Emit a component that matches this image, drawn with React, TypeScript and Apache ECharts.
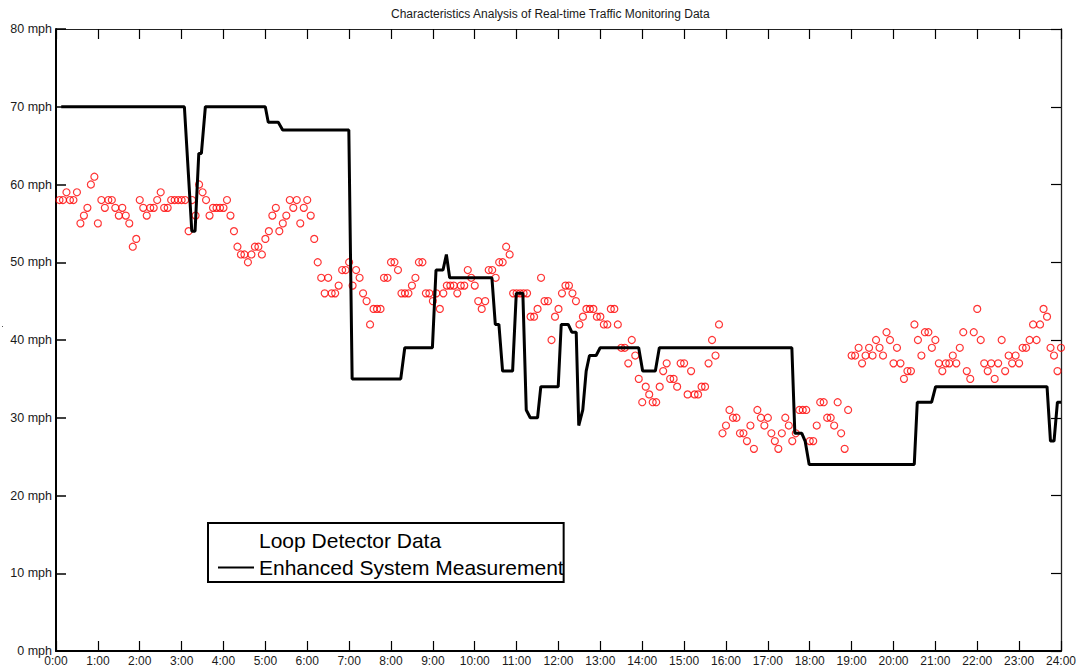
import React, { useEffect, useRef } from "react";
import * as echarts from "echarts";

const titleText = "Characteristics Analysis of Real-time Traffic Monitoring Data";
const loopName = "Loop Detector Data";
const enhancedName = "Enhanced System Measurement";

// Loop detector speeds (mph), one reading every 5 minutes, 0:05 .. 24:00
const loopSpeeds = [
  58, 58, 59, 58, 58, 59, 55, 56, 57, 60,
  61, 55, 58, 57, 58, 58, 57, 56, 57, 56,
  55, 52, 53, 58, 57, 56, 57, 57, 58, 59,
  57, 57, 58, 58, 58, 58, 58, 54, 58, 56,
  60, 59, 58, 56, 57, 57, 57, 57, 58, 56,
  54, 52, 51, 51, 50, 51, 52, 52, 51, 53,
  54, 56, 57, 54, 55, 56, 58, 57, 58, 55,
  57, 58, 56, 53, 50, 48, 46, 48, 46, 46,
  47, 49, 49, 50, 47, 49, 48, 46, 45, 42,
  44, 44, 44, 48, 48, 50, 50, 49, 46, 46,
  46, 47, 48, 50, 50, 46, 46, 45, 46, 44,
  46, 47, 47, 47, 46, 47, 47, 49, 48, 47,
  45, 44, 45, 49, 49, 48, 50, 50, 52, 51,
  46, 46, 46, 46, 46, 43, 43, 44, 48, 45,
  45, 40, 43, 44, 46, 47, 47, 46, 45, 42,
  43, 44, 44, 44, 43, 43, 42, 42, 44, 44,
  42, 39, 39, 37, 40, 38, 35, 32, 34, 33,
  32, 32, 34, 36, 37, 35, 35, 34, 37, 37,
  33, 36, 33, 33, 34, 34, 37, 40, 38, 42,
  28, 29, 31, 30, 30, 28, 28, 27, 29, 26,
  31, 30, 29, 30, 28, 27, 26, 28, 30, 29,
  27, 28, 31, 31, 31, 27, 27, 29, 32, 32,
  30, 30, 29, 32, 28, 26, 31, 38, 38, 39,
  37, 38, 39, 38, 40, 39, 38, 41, 40, 37,
  39, 37, 35, 36, 36, 42, 40, 38, 41, 41,
  39, 40, 37, 36, 37, 37, 38, 37, 39, 41,
  36, 35, 41, 44, 40, 37, 36, 37, 35, 37,
  40, 36, 38, 37, 38, 37, 39, 39, 40, 42,
  40, 42, 44, 43, 39, 38, 36, 39,
];
const sampleMinutes = 5;

// Enhanced system measurement: breakpoints (hour of day, mph)
const enhancedHours = [
  0.125, 3.066, 3.243, 3.321, 3.41, 3.472, 3.567, 4.998, 5.069, 5.308,
  5.413, 6.993, 7.072, 8.233, 8.329, 8.989, 9.075, 9.242, 9.323, 9.401,
  10.41, 10.491, 10.577, 10.665, 10.904, 10.992, 11.149, 11.23, 11.326, 11.5,
  11.578, 11.993, 12.065, 12.232, 12.318, 12.423, 12.484, 12.58, 12.661, 12.74,
  12.899, 12.995, 13.915, 14.01, 14.313, 14.408, 17.573, 17.644, 17.811, 17.89,
  17.986, 20.496, 20.568, 20.911, 21.006, 23.667, 23.749, 23.834, 23.915, 24.0,
];
const enhancedSpeeds = [
  70, 70, 54, 54, 64, 64, 70, 70, 68, 68,
  67, 67, 35, 35, 39, 39, 49, 49, 51, 48,
  48, 42, 42, 36, 36, 46, 46, 31, 30, 30,
  34, 34, 42, 42, 41, 41, 29, 31, 36, 38,
  38, 39, 39, 36, 36, 39, 39, 28, 28, 27,
  24, 24, 32, 32, 34, 34, 27, 27, 32, 32,
];

const hourTicks = { min: 0, max: 24, interval: 1 };
const speedTicks = { min: 0, max: 80, interval: 10 };

const FONT = "'Liberation Sans', Arial, Helvetica, sans-serif";
// plain line legend sample (36 x 14 box, 2px bar in the middle)
const LINE_ICON = "path://M0,0L0,0M0,6L36,6L36,8L0,8ZM36,14L36,14";

export default function App() {
  const ref = useRef<HTMLDivElement>(null);

  useEffect(() => {
    if (!ref.current) return;
    const chart = echarts.init(ref.current, undefined, { renderer: "svg" });

    const loopData = loopSpeeds.map((v, i) => [((i + 1) * sampleMinutes) / 60, v]);
    const enhancedData = enhancedHours.map((h, i) => [h, enhancedSpeeds[i]]);

    const xCommon = {
      type: "value" as const,
      min: hourTicks.min,
      max: hourTicks.max,
      interval: hourTicks.interval,
      splitLine: { show: false },
    };
    const yCommon = {
      type: "value" as const,
      min: speedTicks.min,
      max: speedTicks.max,
      interval: speedTicks.interval,
      splitLine: { show: false },
    };

    chart.setOption({
      animation: false,
      backgroundColor: "#ffffff",
      textStyle: { fontFamily: FONT },
      title: {
        text: titleText,
        left: 391,
        top: 8,
        padding: 0,
        textStyle: { fontSize: 12, fontWeight: "normal", color: "#1a1a1a", fontFamily: FONT },
      },
      grid: { left: 56, right: 16, top: 29, bottom: 16, containLabel: false },
      legend: {
        orient: "vertical",
        left: 208,
        top: 523,
        padding: [7, 0, 4, 10],
        itemGap: 6,
        itemWidth: 36,
        itemHeight: 14,
        borderColor: "#000",
        borderWidth: 2,
        borderRadius: 0,
        backgroundColor: "#ffffff",
        selectedMode: false,
        textStyle: { fontSize: 21, color: "#000", fontFamily: FONT },
        data: [
          { name: loopName, icon: "circle", itemStyle: { opacity: 0 } },
          { name: enhancedName, icon: LINE_ICON, itemStyle: { color: "#000" } },
        ],
      },
      xAxis: [
        {
          ...xCommon,
          position: "bottom",
          axisLine: { show: true, onZero: false, lineStyle: { color: "#000", width: 2 } },
          axisTick: { show: true, inside: true, length: 10, lineStyle: { color: "#000", width: 1.2 } },
          axisLabel: {
            show: true,
            margin: 4,
            fontSize: 12,
            color: "#1a1a1a",
            fontFamily: FONT,
            formatter: (v: number) => `${v}:00`,
          },
        },
        {
          ...xCommon,
          position: "top",
          axisLine: { show: true, onZero: false, lineStyle: { color: "#222", width: 1 } },
          axisTick: { show: true, inside: true, length: 10, lineStyle: { color: "#000", width: 1.2 } },
          axisLabel: { show: false },
        },
      ],
      yAxis: [
        {
          ...yCommon,
          position: "left",
          axisLine: { show: true, onZero: false, lineStyle: { color: "#000", width: 2 } },
          axisTick: { show: true, inside: true, length: 10, lineStyle: { color: "#000", width: 1.5 } },
          axisLabel: {
            show: true,
            margin: 4,
            fontSize: 12.5,
            color: "#1a1a1a",
            fontFamily: FONT,
            formatter: (v: number) => `${v} mph`,
          },
        },
        {
          ...yCommon,
          position: "right",
          axisLine: { show: true, onZero: false, lineStyle: { color: "#222", width: 1.3 } },
          axisTick: { show: true, inside: true, length: 10, lineStyle: { color: "#000", width: 1.2 } },
          axisLabel: { show: false },
        },
      ],
      series: [
        {
          name: loopName,
          type: "scatter",
          xAxisIndex: 0,
          yAxisIndex: 0,
          data: loopData,
          symbol: "circle",
          symbolSize: 7,
          itemStyle: { color: "rgba(255,255,255,0)", borderColor: "#ff0000", borderWidth: 1.2 },
          z: 2,
        },
        {
          name: enhancedName,
          type: "line",
          xAxisIndex: 0,
          yAxisIndex: 0,
          data: enhancedData,
          symbol: "none",
          showSymbol: false,
          lineStyle: { color: "#000", width: 3 },
          itemStyle: { color: "#000" },
          z: 3,
        },
      ],
      graphic: [
        { type: "rect", left: 2, top: 326, shape: { width: 1, height: 1 }, style: { fill: "#555" } },
      ],
    });

    return () => chart.dispose();
  }, []);

  return (
    <div
      ref={ref}
      style={{ position: "absolute", left: 0, top: 0, width: 1079, height: 667 }}
    />
  );
}
